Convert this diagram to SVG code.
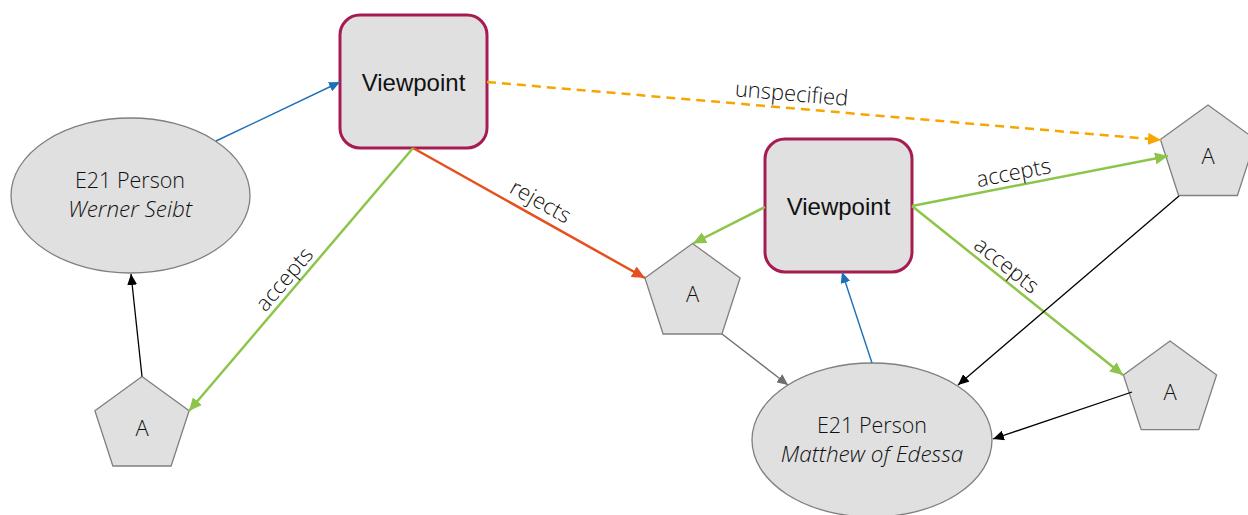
<svg xmlns="http://www.w3.org/2000/svg" width="1248" height="515" viewBox="0 0 1248 515">
<style>
.vp{fill:#E0E0E0;stroke:#A61C52;stroke-width:3}
.vpt{font-family:"Liberation Sans",Arial,sans-serif;font-size:24px;fill:#111;text-anchor:middle}
.el{fill:#E0E0E0;stroke:#7F7F7F;stroke-width:1.3}
.pt{fill:#E0E0E0;stroke:#808080;stroke-width:1.3}
.t{font-family:"Open Sans","Noto Sans",sans-serif;font-weight:300;font-size:21.5px;fill:#111;text-anchor:middle}
.a{font-size:22px}
.it{font-style:italic;font-size:22.5px}
.lbl{font-family:"Open Sans","Noto Sans",sans-serif;font-weight:300;font-size:22px;fill:#111;text-anchor:middle}
.c{fill:none}
</style>
<defs>
<marker id="mBlue" markerUnits="userSpaceOnUse" markerWidth="12" markerHeight="10" refX="11" refY="5" orient="auto"><path d="M0,0 L11,5 L0,10 z" fill="#1F6FB8"/></marker>
<marker id="mOrange" markerUnits="userSpaceOnUse" markerWidth="14" markerHeight="12" refX="13" refY="6" orient="auto"><path d="M0,0 L13,6 L0,12 z" fill="#F7A600"/></marker>
<marker id="mRed" markerUnits="userSpaceOnUse" markerWidth="14" markerHeight="12" refX="13" refY="6" orient="auto"><path d="M0,0 L13,6 L0,12 z" fill="#E5501E"/></marker>
<marker id="mGreen" markerUnits="userSpaceOnUse" markerWidth="14" markerHeight="12" refX="13" refY="6" orient="auto"><path d="M0,0 L13,6 L0,12 z" fill="#8DC54B"/></marker>
<marker id="mGray" markerUnits="userSpaceOnUse" markerWidth="12" markerHeight="10" refX="11" refY="5" orient="auto"><path d="M0,0 L11,5 L0,10 z" fill="#6E6E6E"/></marker>
<marker id="mBlack" markerUnits="userSpaceOnUse" markerWidth="12" markerHeight="10" refX="11" refY="5" orient="auto"><path d="M0,0 L11,5 L0,10 z" fill="#000"/></marker>
</defs>
<rect width="1248" height="515" fill="#fff"/>

<g id="viewpoint1"><rect class="vp" x="340" y="15" width="147" height="133" rx="20"/><text class="vpt" x="413.5" y="91">Viewpoint</text></g>
<g id="viewpoint2"><rect class="vp" x="765" y="139" width="147" height="133" rx="20"/><text class="vpt" x="838.5" y="215">Viewpoint</text></g>
<g id="person1"><ellipse class="el" cx="130.5" cy="195.5" rx="119.5" ry="77.5"/><text class="t" x="130" y="188">E21 Person</text><text class="t it" x="130" y="217">Werner Seibt</text></g>
<g id="person2"><ellipse class="el" cx="872" cy="440" rx="120" ry="77"/><text class="t" x="872" y="433">E21 Person</text><text class="t it" x="872" y="462">Matthew of Edessa</text></g>
<g id="a_topright"><polygon class="pt" points="1208,105 1255.6,139.5 1237.4,195.5 1178.6,195.5 1160.4,139.5"/><text class="t a" x="1208" y="164">A</text></g>
<g id="a_bottomright"><polygon class="pt" points="1170,341 1216.6,374.9 1198.8,429.6 1141.2,429.6 1123.4,374.9"/><text class="t a" x="1170" y="400">A</text></g>
<g id="a_middle"><polygon class="pt" points="692.5,243.5 740.1,278 721.9,334 663.1,334 644.9,278"/><text class="t a" x="692.5" y="302">A</text></g>
<g id="a_left"><polygon class="pt" points="142,376.5 189.1,410.7 171.1,466 112.9,466 94.9,410.7"/><text class="t a" x="142" y="436">A</text></g>

<g id="connectors">
<line class="c" x1="216" y1="141" x2="340" y2="82" stroke="#1F6FB8" stroke-width="1.4" marker-end="url(#mBlue)"/>
<line class="c" x1="487" y1="82" x2="1161" y2="140" stroke="#F7A600" stroke-width="2.5" stroke-dasharray="9 6" marker-end="url(#mOrange)"/>
<line class="c" x1="413" y1="148" x2="645" y2="278" stroke="#E5501E" stroke-width="2.5" marker-end="url(#mRed)"/>
<line class="c" x1="413" y1="148" x2="189" y2="411" stroke="#8DC54B" stroke-width="2.5" marker-end="url(#mGreen)"/>
<line class="c" x1="765" y1="207" x2="693" y2="243.5" stroke="#8DC54B" stroke-width="2.5" marker-end="url(#mGreen)"/>
<line class="c" x1="912" y1="206" x2="1168" y2="156" stroke="#8DC54B" stroke-width="2.5" marker-end="url(#mGreen)"/>
<line class="c" x1="912" y1="206" x2="1123" y2="375" stroke="#8DC54B" stroke-width="2.5" marker-end="url(#mGreen)"/>
<line class="c" x1="872" y1="363" x2="842" y2="272" stroke="#1F6FB8" stroke-width="1.4" marker-end="url(#mBlue)"/>
<line class="c" x1="722" y1="334" x2="788" y2="385" stroke="#6E6E6E" stroke-width="1.4" marker-end="url(#mGray)"/>
<line class="c" x1="1179" y1="196" x2="958" y2="385" stroke="#000" stroke-width="1.3" marker-end="url(#mBlack)"/>
<line class="c" x1="1132" y1="392" x2="993" y2="439" stroke="#000" stroke-width="1.3" marker-end="url(#mBlack)"/>
<line class="c" x1="142" y1="376.5" x2="131" y2="274" stroke="#000" stroke-width="1.3" marker-end="url(#mBlack)"/>
<text class="lbl" x="791" y="101" transform="rotate(4.9 791 101)">unspecified</text>
<text class="lbl" x="537" y="208" transform="rotate(29.3 537 208)">rejects</text>
<text class="lbl" x="290" y="284" transform="rotate(-49.7 290 284)">accepts</text>
<text class="lbl" x="1015" y="180" transform="rotate(-11 1015 180)">accepts</text>
<text class="lbl" x="1002" y="271" transform="rotate(38.7 1002 271)">accepts</text>
</g>
</svg>
